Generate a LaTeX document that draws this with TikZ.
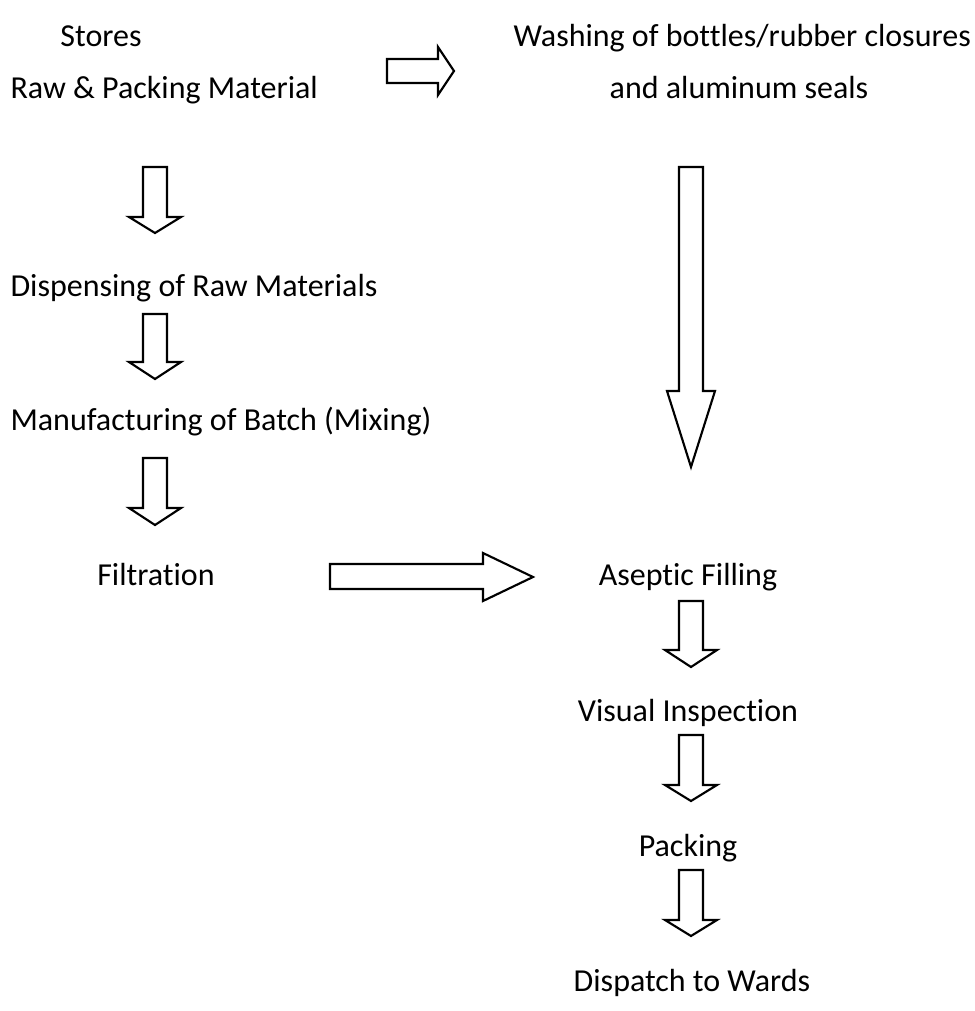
\documentclass[tikz,border=0pt]{standalone}
\usepackage{fontspec}
\setmainfont{Carlito}[Ligatures={NoCommon}]
\begin{document}
\begin{tikzpicture}[x=0.375pt,y=-0.375pt,
  lbl/.style={inner sep=0pt,font=\fontsize{12}{14}\selectfont},
  barrow/.style={draw=black,line width=0.8pt,fill=white,line join=miter}]
\useasboundingbox (0,0) rectangle (974,1011);
% texts
\node[lbl,anchor=base] (stores) at (101,46) {Stores};
\node[lbl,anchor=base west] (raw) at (10,98) {Raw \& Packing Material};
\node[lbl,anchor=base west] (wash) at (513,46) {Washing of bottles/rubber closures};
\node[lbl,anchor=base] (alu) at (739,98) {and aluminum seals};
\node[lbl,anchor=base west] (disp) at (10,296) {Dispensing of Raw Materials};
\node[lbl,anchor=base west] (manu) at (10,430) {Manufacturing of Batch (Mixing)};
\node[lbl,anchor=base] (filt) at (156,585) {Filtration};
\node[lbl,anchor=base] (asep) at (688,585) {Aseptic Filling};
\node[lbl,anchor=base] (vis) at (688,721) {Visual Inspection};
\node[lbl,anchor=base] (pack) at (688,856) {Packing};
\node[lbl,anchor=base] (dispatch) at (692,991) {Dispatch to Wards};
% block arrows
\newcommand\dnblock[4]{% cx, top, neck, tip
  \draw[barrow] ({#1-12},#2) -- ({#1+12},#2) -- ({#1+12},#3) -- ({#1+26},#3)
    -- (#1,#4) -- ({#1-26},#3) -- ({#1-12},#3) -- cycle;}
\dnblock{155}{167}{217}{233}
\dnblock{155}{314}{362}{379}
\dnblock{155}{458}{508}{525}
\dnblock{691}{601}{650}{667}
\dnblock{691}{735}{785}{801}
\dnblock{691}{870}{920}{936}
% long down arrow
\draw[barrow] (679,167) -- (703,167) -- (703,391) -- (715,391) -- (691,467)
  -- (667,391) -- (679,391) -- cycle;
% right arrows
\draw[barrow] (387,59) -- (438,59) -- (438,47) -- (454,71) -- (438,95)
  -- (438,83) -- (387,83) -- cycle;
\draw[barrow] (330,564) -- (483,564) -- (483,553) -- (533,577) -- (483,601)
  -- (483,589) -- (330,589) -- cycle;
\end{tikzpicture}
\end{document}
